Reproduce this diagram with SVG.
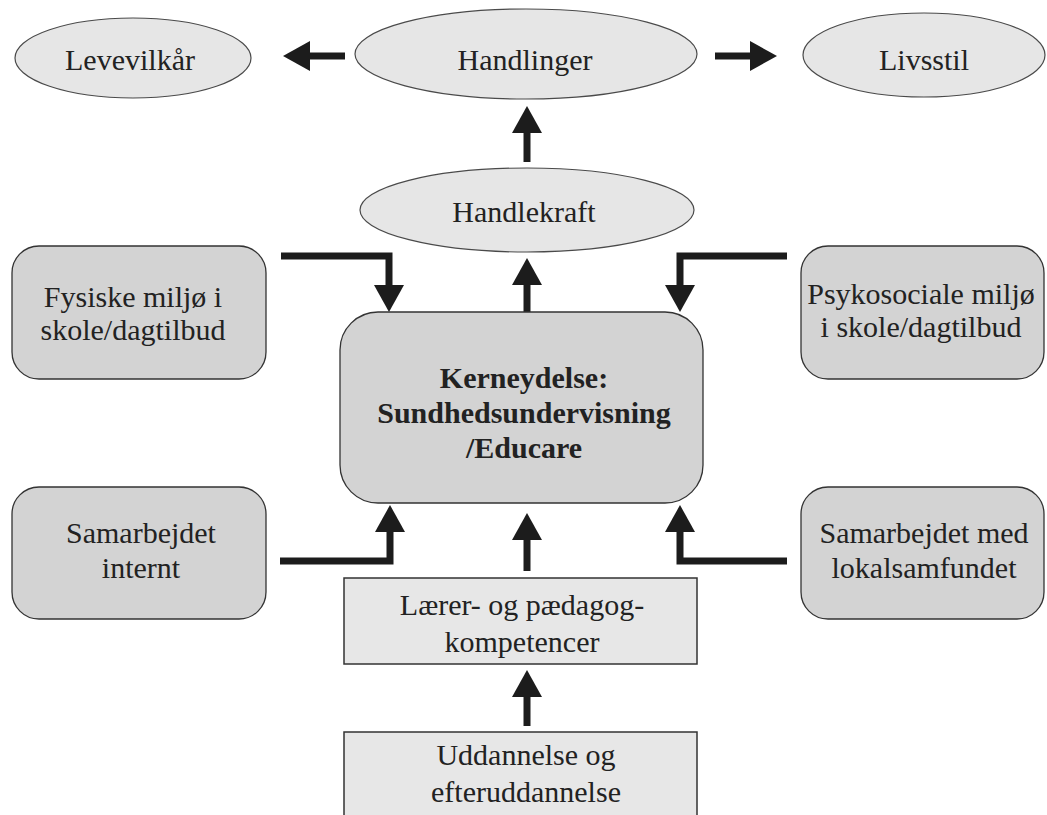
<svg xmlns="http://www.w3.org/2000/svg" width="1047" height="815" viewBox="0 0 1047 815">
<defs>
<style>
.ell{fill:#e6e6e6;stroke:#4a4a4a;stroke-width:1.2}
.rbox{fill:#d3d3d3;stroke:#333;stroke-width:1.3}
.box{fill:#e7e7e7;stroke:#333;stroke-width:1.5}
.t{font-family:"Liberation Serif","Times New Roman",serif;font-size:30px;fill:#222;text-anchor:middle}
.b{font-weight:bold}
.c{fill:none;stroke:#1c1c1c;stroke-width:7;stroke-linejoin:miter;marker-end:url(#ah)}
</style>
<marker id="ah" markerUnits="userSpaceOnUse" markerWidth="28" markerHeight="30" refX="6" refY="15" orient="auto" viewBox="0 0 28 30">
<path d="M0,0 L27,15 L0,30 z" fill="#1c1c1c"/>
</marker>
</defs>
<rect width="1047" height="815" fill="#fff"/>
<g id="connectors">
<path class="c" d="M345,56 H304"/>
<path class="c" d="M715,56 H756"/>
<path class="c" d="M527,162 V127"/>
<path class="c" d="M527,312 V279"/>
<path class="c" d="M281,256 H389 V291"/>
<path class="c" d="M787,256 H680 V291"/>
<path class="c" d="M280,561 H390 V526"/>
<path class="c" d="M787,561 H680 V526"/>
<path class="c" d="M527,571 V534"/>
<path class="c" d="M527,726 V691"/>
</g>
<g id="levevilkar">
<ellipse class="ell" cx="133" cy="58" rx="118" ry="40"/>
<text class="t" x="130" y="70">Levevilkår</text>
</g>
<g id="handlinger">
<ellipse class="ell" cx="526" cy="54" rx="171" ry="45"/>
<text class="t" x="525" y="70">Handlinger</text>
</g>
<g id="livsstil">
<ellipse class="ell" cx="924" cy="55" rx="121" ry="42"/>
<text class="t" x="924" y="70">Livsstil</text>
</g>
<g id="handlekraft">
<ellipse class="ell" cx="527" cy="210" rx="167" ry="42"/>
<text class="t" x="524" y="222">Handlekraft</text>
</g>
<g id="fysiske">
<rect class="rbox" x="12" y="246" width="254" height="133" rx="27" ry="27"/>
<text class="t" x="133" y="307">Fysiske miljø i</text>
<text class="t" x="133" y="340">skole/dagtilbud</text>
</g>
<g id="psykosociale">
<rect class="rbox" x="801" y="246" width="243" height="133" rx="27" ry="27"/>
<text class="t" x="921" y="304">Psykosociale miljø</text>
<text class="t" x="921" y="337">i skole/dagtilbud</text>
</g>
<g id="kerneydelse">
<rect class="rbox" x="340" y="312" width="363" height="191" rx="38" ry="38"/>
<text class="t b" x="524" y="388">Kerneydelse:</text>
<text class="t b" x="524" y="423">Sundhedsundervisning</text>
<text class="t b" x="524" y="458">/Educare</text>
</g>
<g id="samarbejdet-internt">
<rect class="rbox" x="12" y="487" width="254" height="132" rx="27" ry="27"/>
<text class="t" x="141" y="543">Samarbejdet</text>
<text class="t" x="141" y="578">internt</text>
</g>
<g id="samarbejdet-med">
<rect class="rbox" x="801" y="487" width="243" height="132" rx="27" ry="27"/>
<text class="t" x="924" y="543">Samarbejdet med</text>
<text class="t" x="924" y="578">lokalsamfundet</text>
</g>
<g id="laerer">
<rect class="box" x="344" y="578" width="353" height="86"/>
<text class="t" x="522" y="615">Lærer- og pædagog-</text>
<text class="t" x="522" y="652">kompetencer</text>
</g>
<g id="uddannelse">
<rect class="box" x="344" y="732" width="353" height="95"/>
<text class="t" x="526" y="765">Uddannelse og</text>
<text class="t" x="526" y="802">efteruddannelse</text>
</g>
</svg>
